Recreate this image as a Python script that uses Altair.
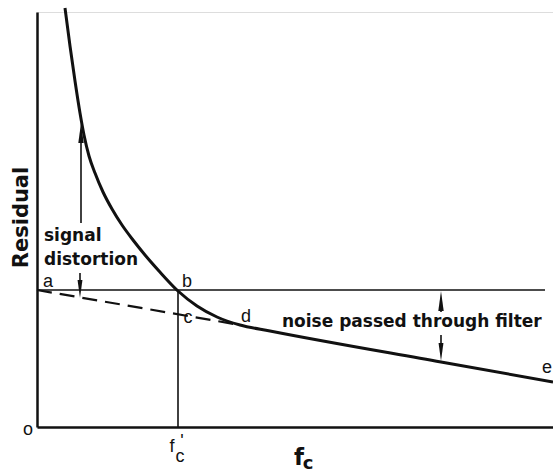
import altair as alt
import pandas as pd

# ---- data (schematic units: origin at the axes corner) ----
curve_x = [28, 33, 38, 43, 47, 52, 58, 66, 75, 85, 96, 108, 122, 141, 160, 180, 203, 233, 404, 516]
curve_y = [419, 381, 346, 314, 292, 271, 254, 235, 218, 202, 187, 172, 156, 136, 121, 110, 102, 96, 65, 45]

thin_x = [0, 141]
thin_x2 = [508, 141]
thin_y = [137, 0]
thin_y2 = [137, 137]

dash_x = [0, 203]
dash_y = [137, 102]

shaft_x = [44, 43, 404, 404]
shaft_y = [204, 154, 115, 92]
shaft_y2 = [292, 142, 128, 77]

head_up_x = [44, 404]
head_up_y = [294, 126]
head_down_x = [43, 404]
head_down_y = [138, 75]

pt_labels = ["a", "b", "c", "d", "e", "o"]
pt_x = [11, 150, 151, 209, 510, -9]
pt_y = [140, 140, 104, 105, 54, -8]

bold_labels = ["signal", "distortion", "noise passed through filter"]
bold_x = [7, 7, 245]
bold_y = [186, 162, 100]

XMAX, YMAX = 516, 415
xs = alt.Scale(domain=[0, XMAX], nice=False, zero=False)
ys = alt.Scale(domain=[0, YMAX], nice=False, zero=False)

xaxis = alt.Axis(title="", domain=True, ticks=False, labels=False, grid=False,
                 domainColor="#111", domainWidth=2.5)
yaxis = alt.Axis(title="Residual", domain=True, ticks=False, labels=False, grid=False,
                 domainColor="#111", domainWidth=2.5,
                 titleFont="DejaVu Sans", titleFontSize=21, titleFontWeight="bold",
                 titleColor="#111", titleAngle=270, titleX=-10, titleY=205,
                 titleAlign="center", titleBaseline="alphabetic")


def X(f="x"):
    return alt.X(f + ":Q", scale=xs, axis=xaxis)


def Y(f="y"):
    return alt.Y(f + ":Q", scale=ys, axis=yaxis)


curve = alt.Chart(pd.DataFrame({"x": curve_x, "y": curve_y, "o": range(len(curve_x))})).mark_line(
    color="#111", strokeWidth=3, interpolate="monotone"
).encode(x=X(), y=Y(), order="o:Q")

thin = alt.Chart(pd.DataFrame({"x": thin_x, "x2": thin_x2, "y": thin_y, "y2": thin_y2})).mark_rule(
    color="#111", strokeWidth=1.6
).encode(x=X(), x2="x2:Q", y=Y(), y2="y2:Q")

dash = alt.Chart(pd.DataFrame({"x": dash_x, "y": dash_y})).mark_line(
    color="#111", strokeWidth=2.2, strokeDash=[15, 8]
).encode(x=X(), y=Y())

shafts = alt.Chart(pd.DataFrame({"x": shaft_x, "y": shaft_y, "y2": shaft_y2})).mark_rule(
    color="#111", strokeWidth=1.6
).encode(x=X(), y=Y(), y2="y2:Q")

up_path = "M0,-1L0.27,1L-0.27,1Z"
down_path = "M0,1L0.27,-1L-0.27,-1Z"

heads_up = alt.Chart(pd.DataFrame({"x": head_up_x, "y": head_up_y})).mark_point(
    shape=up_path, filled=True, color="#111", opacity=1, size=400, strokeWidth=0
).encode(x=X(), y=Y())

heads_down = alt.Chart(pd.DataFrame({"x": head_down_x, "y": head_down_y})).mark_point(
    shape=down_path, filled=True, color="#111", opacity=1, size=330, strokeWidth=0
).encode(x=X(), y=Y())

pts = alt.Chart(pd.DataFrame({"x": pt_x, "y": pt_y, "t": pt_labels})).mark_text(
    font="Liberation Sans", fontSize=18, color="#111", align="center", baseline="alphabetic"
).encode(x=X(), y=Y(), text="t:N")

bold = alt.Chart(pd.DataFrame({"x": bold_x, "y": bold_y, "t": bold_labels})).mark_text(
    font="DejaVu Sans", fontSize=17, fontWeight="bold", color="#111", align="left",
    baseline="alphabetic"
).encode(x=X(), y=Y(), text="t:N")

# f'c label under the vertical line
fpc = alt.Chart(pd.DataFrame({"x": [135, 143], "y": [-25, -35], "t": ["f", "c"]})).mark_text(
    font="Liberation Sans", fontSize=18, color="#111", align="center", baseline="alphabetic"
).encode(x=X(), y=Y(), text="t:N")
prime = alt.Chart(pd.DataFrame({"x": [145], "y": [-6], "t": ["'"]})).mark_text(
    font="Liberation Sans", fontSize=18, color="#111", align="center", baseline="top"
).encode(x=X(), y=Y(), text="t:N")

# bold f_c axis label
fc_f = alt.Chart(pd.DataFrame({"x": [262], "y": [-38], "t": ["f"]})).mark_text(
    font="DejaVu Sans", fontSize=23, fontWeight="bold", color="#111", align="center",
    baseline="alphabetic"
).encode(x=X(), y=Y(), text="t:N")
fc_c = alt.Chart(pd.DataFrame({"x": [271], "y": [-42], "t": ["c"]})).mark_text(
    font="DejaVu Sans", fontSize=18, fontWeight="bold", color="#111", align="center",
    baseline="alphabetic"
).encode(x=X(), y=Y(), text="t:N")

chart = alt.layer(
    thin, dash, curve, shafts, heads_up, heads_down, pts, bold, fpc, prime, fc_f, fc_c
).properties(
    width=XMAX, height=YMAX, autosize="none",
    padding={"left": 37, "top": 12, "right": 0, "bottom": 46},
).configure_view(stroke=None).configure(background="white")

chart.save("out.html", embed_options={"renderer": "svg", "actions": False})
